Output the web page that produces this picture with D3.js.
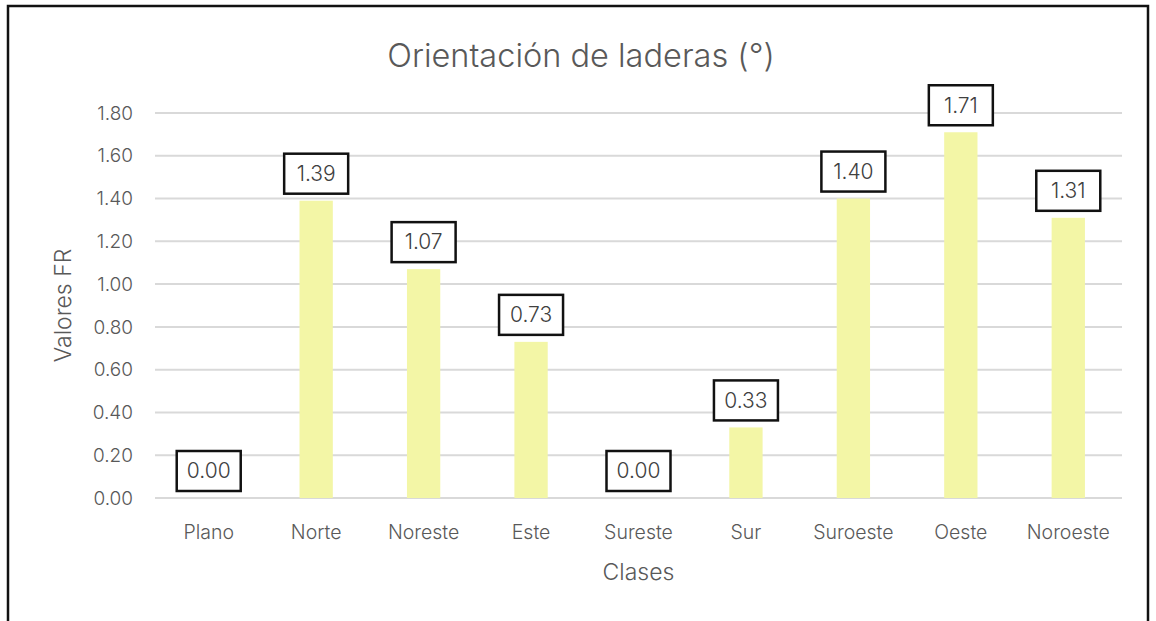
<!DOCTYPE html>
<html>
<head>
<meta charset="utf-8">
<script src="https://cdn.jsdelivr.net/npm/d3@7"></script>
<style>
  body { margin: 0; background: #fff; }
  svg { display: block; font-family: Inter, "Open Sans", sans-serif; }
</style>
</head>
<body>
<div id="chart"></div>
<script>
const categories = ["Plano", "Norte", "Noreste", "Este", "Sureste", "Sur", "Suroeste", "Oeste", "Noroeste"];
const values = [0.00, 1.39, 1.07, 0.73, 0.00, 0.33, 1.40, 1.71, 1.31];
const yTicks = [0, 0.2, 0.4, 0.6, 0.8, 1.0, 1.2, 1.4, 1.6, 1.8];
const title = "Orientación de laderas (°)";
const xTitle = "Clases";
const yTitle = "Valores FR";

const width = 1156, height = 621;
const margin = { top: 113, right: 34, bottom: 123, left: 155 };
const innerW = width - margin.left - margin.right;
const innerH = height - margin.top - margin.bottom;

const svg = d3.select("#chart").append("svg")
  .attr("width", width)
  .attr("height", height);

// outer frame
svg.append("rect")
  .attr("x", 8).attr("y", 6)
  .attr("width", 1140).attr("height", 640)
  .attr("fill", "none")
  .attr("stroke", "#111")
  .attr("stroke-width", 2.5);

const g = svg.append("g").attr("transform", `translate(${margin.left},${margin.top})`);

const x = d3.scaleBand().domain(categories).range([0, innerW]).paddingInner(0.69).paddingOuter(0.345);
const y = d3.scaleLinear().domain([0, 1.8]).range([innerH, 0]);

// gridlines
g.selectAll(".grid").data(yTicks).enter().append("line")
  .attr("x1", 0).attr("x2", innerW)
  .attr("y1", d => y(d)).attr("y2", d => y(d))
  .attr("stroke", "#d9d9d9").attr("stroke-width", 2);

// y tick labels
g.selectAll(".ytick").data(yTicks).enter().append("text")
  .attr("x", -22).attr("y", d => y(d))
  .attr("dy", "0.35em")
  .attr("text-anchor", "end")
  .attr("font-size", 19)
  .attr("font-weight", 300)
  .attr("fill", "#595959")
  .text(d => d.toFixed(2));

// bars
g.selectAll(".bar").data(values).enter().append("rect")
  .attr("x", (d, i) => x(categories[i]))
  .attr("y", d => y(d))
  .attr("width", x.bandwidth())
  .attr("height", d => innerH - y(d))
  .attr("fill", "#f3f6a6");

// category labels
g.selectAll(".xtick").data(categories).enter().append("text")
  .attr("x", d => x(d) + x.bandwidth() / 2)
  .attr("y", innerH + 34)
  .attr("dy", "0.35em")
  .attr("text-anchor", "middle")
  .attr("font-size", 19.5)
  .attr("font-weight", 300)
  .attr("fill", "#595959")
  .text(d => d);

// value labels in boxes
const lbl = g.selectAll(".lbl").data(values).enter().append("g")
  .attr("transform", (d, i) => `translate(${x(categories[i]) + x.bandwidth() / 2},${y(d) - 27})`);
lbl.append("rect")
  .attr("x", -32).attr("y", -20)
  .attr("width", 64).attr("height", 40)
  .attr("fill", "#fff")
  .attr("stroke", "#111").attr("stroke-width", 2.5);
lbl.append("text")
  .attr("text-anchor", "middle")
  .attr("dy", "0.35em")
  .attr("font-size", 21)
  .attr("font-weight", 300)
  .attr("fill", "#404040")
  .text(d => d.toFixed(2));

// titles
svg.append("text")
  .attr("x", 581).attr("y", 56)
  .attr("dy", "0.35em")
  .attr("text-anchor", "middle")
  .attr("font-size", 32.5)
  .attr("font-weight", 300)
  .attr("fill", "#595959")
  .text(title);

svg.append("text")
  .attr("x", margin.left + innerW / 2).attr("y", 572)
  .attr("dy", "0.35em")
  .attr("text-anchor", "middle")
  .attr("font-size", 23)
  .attr("font-weight", 300)
  .attr("fill", "#595959")
  .text(xTitle);

svg.append("text")
  .attr("transform", `translate(63,${margin.top + innerH / 2}) rotate(-90)`)
  .attr("dy", "0.35em")
  .attr("text-anchor", "middle")
  .attr("font-size", 23)
  .attr("font-weight", 300)
  .attr("fill", "#595959")
  .text(yTitle);
</script>
</body>
</html>
